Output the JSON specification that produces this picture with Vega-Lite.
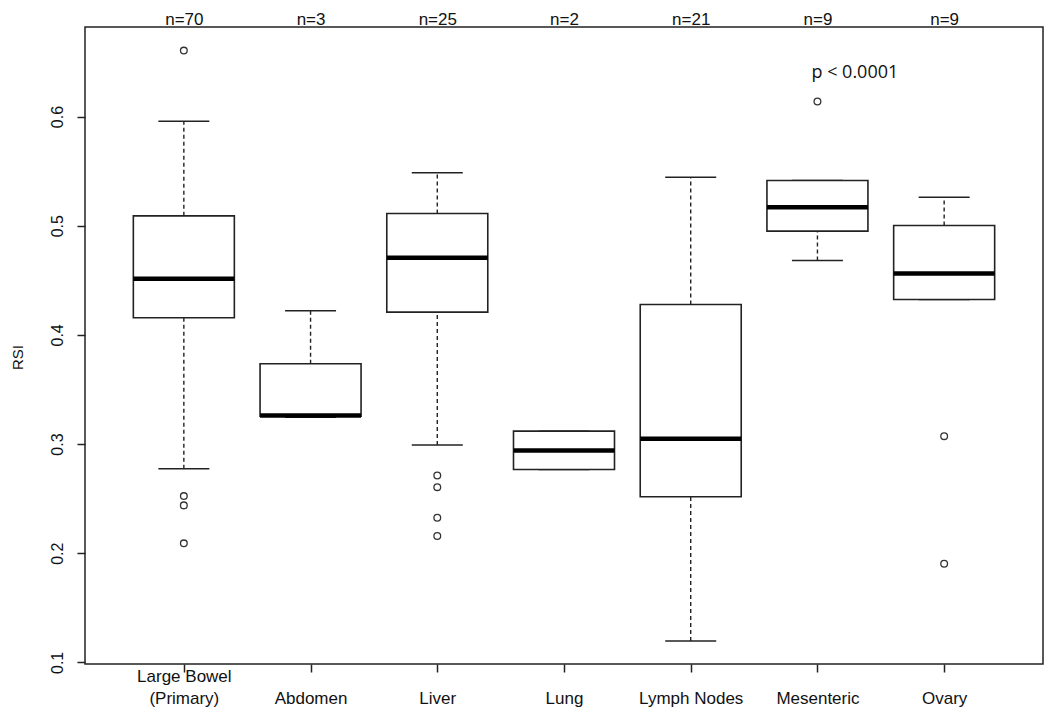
{
  "$schema": "https://vega.github.io/schema/vega-lite/v6.json",
  "width": 958,
  "height": 637,
  "autosize": {"type": "none"},
  "padding": {"left": 85, "top": 27, "right": 7, "bottom": 62},
  "background": "white",
  "config": {
    "view": {"stroke": "#222", "strokeWidth": 1.5},
    "font": "Liberation Sans",
    "axis": {"grid": false}
  },
  "datasets": {
    "stats": [
      {"site": "Large Bowel (Primary)", "lower": 0.2774, "q1": 0.4157, "median": 0.4514, "q3": 0.509, "upper": 0.5957},
      {"site": "Abdomen", "lower": 0.3245, "q1": 0.3255, "median": 0.3262, "q3": 0.3735, "upper": 0.422},
      {"site": "Liver", "lower": 0.299, "q1": 0.4208, "median": 0.4706, "q3": 0.5112, "upper": 0.5484},
      {"site": "Lung", "lower": 0.2767, "q1": 0.2767, "median": 0.2941, "q3": 0.3118, "upper": 0.3118},
      {"site": "Lymph Nodes", "lower": 0.1195, "q1": 0.2517, "median": 0.3048, "q3": 0.4278, "upper": 0.5444},
      {"site": "Mesenteric", "lower": 0.4681, "q1": 0.495, "median": 0.517, "q3": 0.5414, "upper": 0.5414},
      {"site": "Ovary", "lower": 0.4324, "q1": 0.4324, "median": 0.4562, "q3": 0.5002, "upper": 0.5261}
    ],
    "outliers": [
      {"site": "Large Bowel (Primary)", "rsi": 0.6604},
      {"site": "Large Bowel (Primary)", "rsi": 0.2523},
      {"site": "Large Bowel (Primary)", "rsi": 0.2438},
      {"site": "Large Bowel (Primary)", "rsi": 0.209},
      {"site": "Liver", "rsi": 0.2712},
      {"site": "Liver", "rsi": 0.2605},
      {"site": "Liver", "rsi": 0.2325},
      {"site": "Liver", "rsi": 0.2157},
      {"site": "Mesenteric", "rsi": 0.6137},
      {"site": "Ovary", "rsi": 0.3072},
      {"site": "Ovary", "rsi": 0.1904}
    ],
    "note": [
      {"site": "Mesenteric", "rsi": 0.64, "label": "p < 0.0001"}
    ]
  },
  "resolve": {"axis": {"x": "independent"}},
  "layer": [
    {
      "data": {"name": "stats"},
      "mark": {"type": "rule", "color": "#222", "strokeWidth": 1.4, "strokeDash": [4, 3], "opacity": 1},
      "encoding": {
        "x": {"field": "site", "type": "nominal", "sort": ["Large Bowel (Primary)", "Abdomen", "Liver", "Lung", "Lymph Nodes", "Mesenteric", "Ovary"], "scale": {"type": "point", "padding": 0.78}, "axis": null},
        "y": {"field": "q3", "type": "quantitative", "title": "RSI", "scale": {"domain": [0.0985, 0.682], "nice": false, "zero": false},
          "axis": {"values": [0.1, 0.2, 0.3, 0.4, 0.5, 0.6], "format": ".1f", "domain": false, "grid": false, "tickSize": 8, "tickWidth": 1.5, "tickColor": "#222", "labelAngle": -90, "labelAlign": "center", "labelBaseline": "bottom", "labelPadding": 12, "labelFontSize": 16, "labelColor": "#111", "titleFontSize": 15, "titleFontWeight": "normal", "titleColor": "#111", "titleAngle": -90, "titleAlign": "center", "titleBaseline": "middle", "titleX": -68, "titleY": 330}},
        "y2": {"field": "upper"}
      }
    },
    {
      "data": {"name": "stats"},
      "mark": {"type": "rule", "color": "#222", "strokeWidth": 1.4, "strokeDash": [4, 3], "opacity": 1},
      "encoding": {
        "x": {"field": "site", "type": "nominal", "sort": ["Large Bowel (Primary)", "Abdomen", "Liver", "Lung", "Lymph Nodes", "Mesenteric", "Ovary"], "scale": {"type": "point", "padding": 0.78}, "axis": null},
        "y": {"field": "lower", "type": "quantitative", "title": "RSI"},
        "y2": {"field": "q1"}
      }
    },
    {
      "data": {"name": "stats"},
      "mark": {"type": "tick", "color": "#222", "size": 51, "thickness": 1.5, "opacity": 1},
      "encoding": {
        "x": {"field": "site", "type": "nominal", "sort": ["Large Bowel (Primary)", "Abdomen", "Liver", "Lung", "Lymph Nodes", "Mesenteric", "Ovary"], "scale": {"type": "point", "padding": 0.78}, "axis": null},
        "y": {"field": "upper", "type": "quantitative", "title": "RSI"}
      }
    },
    {
      "data": {"name": "stats"},
      "mark": {"type": "tick", "color": "#222", "size": 51, "thickness": 1.5, "opacity": 1},
      "encoding": {
        "x": {"field": "site", "type": "nominal", "sort": ["Large Bowel (Primary)", "Abdomen", "Liver", "Lung", "Lymph Nodes", "Mesenteric", "Ovary"], "scale": {"type": "point", "padding": 0.78}, "axis": null},
        "y": {"field": "lower", "type": "quantitative", "title": "RSI"}
      }
    },
    {
      "data": {"name": "stats"},
      "mark": {"type": "bar", "size": 101, "fill": "white", "stroke": "#222", "strokeWidth": 1.6, "opacity": 1},
      "encoding": {
        "x": {"field": "site", "type": "nominal", "sort": ["Large Bowel (Primary)", "Abdomen", "Liver", "Lung", "Lymph Nodes", "Mesenteric", "Ovary"], "scale": {"type": "point", "padding": 0.78},
          "axis": {"orient": "bottom", "title": null, "domain": false, "grid": false, "labelAngle": 0, "tickSize": 8, "tickWidth": 1.5, "tickColor": "#222", "labelFontSize": 17, "labelColor": "#111", "labelBaseline": "top", "labelLineHeight": 22, "labelPadding": -4,
            "labelExpr": "datum.value == 'Large Bowel (Primary)' ? ['Large Bowel', '(Primary)'] : ['', datum.value]"}},
        "y": {"field": "q1", "type": "quantitative", "title": "RSI"},
        "y2": {"field": "q3"}
      }
    },
    {
      "data": {"name": "stats"},
      "mark": {"type": "tick", "color": "#000", "size": 101, "thickness": 4.5, "opacity": 1},
      "encoding": {
        "x": {"field": "site", "type": "nominal", "sort": ["Large Bowel (Primary)", "Abdomen", "Liver", "Lung", "Lymph Nodes", "Mesenteric", "Ovary"], "scale": {"type": "point", "padding": 0.78},
          "axis": {"orient": "top", "title": null, "domain": false, "grid": false, "ticks": false, "tickSize": 0, "labelAngle": 0, "labelFontSize": 17, "labelColor": "#111", "labelBaseline": "alphabetic", "labelPadding": 3,
            "labelExpr": "{'Large Bowel (Primary)': 'n=70', 'Abdomen': 'n=3', 'Liver': 'n=25', 'Lung': 'n=2', 'Lymph Nodes': 'n=21', 'Mesenteric': 'n=9', 'Ovary': 'n=9'}[datum.value]"}},
        "y": {"field": "median", "type": "quantitative", "title": "RSI"}
      }
    },
    {
      "data": {"name": "outliers"},
      "mark": {"type": "point", "shape": "circle", "filled": false, "size": 45, "stroke": "#333", "strokeWidth": 1.3, "opacity": 1},
      "encoding": {
        "x": {"field": "site", "type": "nominal", "sort": ["Large Bowel (Primary)", "Abdomen", "Liver", "Lung", "Lymph Nodes", "Mesenteric", "Ovary"], "scale": {"type": "point", "padding": 0.78}, "axis": null},
        "y": {"field": "rsi", "type": "quantitative", "title": "RSI"}
      }
    },
    {
      "data": {"name": "note"},
      "mark": {"type": "text", "align": "left", "baseline": "middle", "dx": -6, "font": "Open Sans", "fontSize": 18, "color": "#111"},
      "encoding": {
        "x": {"field": "site", "type": "nominal", "sort": ["Large Bowel (Primary)", "Abdomen", "Liver", "Lung", "Lymph Nodes", "Mesenteric", "Ovary"], "scale": {"type": "point", "padding": 0.78}, "axis": null},
        "y": {"field": "rsi", "type": "quantitative", "title": "RSI"},
        "text": {"field": "label"}
      }
    }
  ]
}
